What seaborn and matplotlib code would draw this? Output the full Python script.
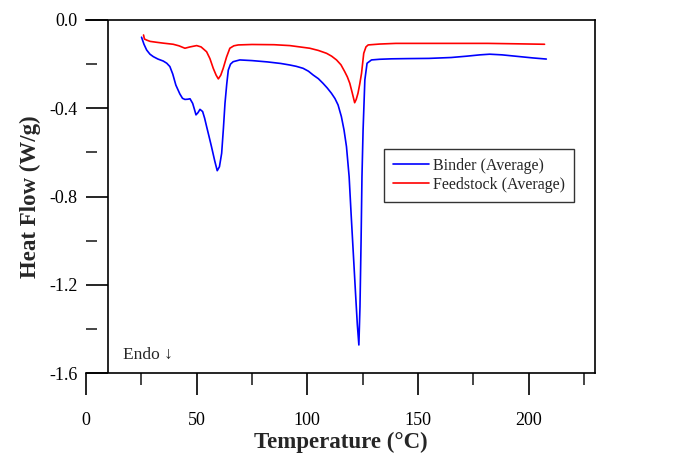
import numpy as np
import pandas as pd
import matplotlib
matplotlib.use("Agg")
import matplotlib.pyplot as plt
import seaborn as sns
from matplotlib.ticker import FixedLocator

# ---- data ----
binder_x = [25.1, 26.2, 27.4, 28.9, 30.4, 32.5, 34.9, 36.5, 37.9, 39.2, 40.6, 42.4, 43.6,
            44.7, 46.0, 47.0, 48.2, 49.0, 49.7, 50.6, 51.5, 52.7, 53.6, 54.5, 55.6, 56.7,
            58.2, 59.3, 60.3, 61.3, 62.1, 62.8, 63.6, 64.3, 65.3, 66.5, 69.5,
            75.0, 82.0, 88.0, 92.1, 95.0, 98.1, 100.5, 102.6, 105.0, 107.1, 109.0, 110.9,
            112.5, 113.9, 115.4, 116.6, 117.7, 118.9, 119.8, 120.8, 121.8, 122.6, 123.3,
            123.8, 124.3, 124.7, 125.2, 126.0, 127.0, 129.0, 132.7, 138.0, 145.0, 155.0,
            165.0, 172.0, 178.0, 182.4, 188.0, 195.0, 202.0, 208.0]
binder_y = [-0.078, -0.110, -0.136, -0.155, -0.166, -0.177, -0.186, -0.196, -0.211, -0.245,
            -0.295, -0.335, -0.355, -0.360, -0.359, -0.357, -0.378, -0.405, -0.430, -0.420,
            -0.405, -0.415, -0.445, -0.483, -0.528, -0.574, -0.640, -0.683, -0.665, -0.604,
            -0.490, -0.378, -0.290, -0.227, -0.200, -0.189, -0.181, -0.184, -0.190, -0.197,
            -0.204, -0.210, -0.219, -0.232, -0.249, -0.266, -0.287, -0.308, -0.332, -0.356,
            -0.385, -0.438, -0.499, -0.574, -0.710, -0.880, -1.060, -1.240, -1.380, -1.473,
            -1.300, -1.000, -0.710, -0.500, -0.272, -0.196, -0.181, -0.178, -0.176, -0.175,
            -0.174, -0.170, -0.164, -0.158, -0.155, -0.158, -0.165, -0.172, -0.177]

feed_x = [26.0, 26.4, 27.4, 29.0, 31.9, 35.0, 39.4, 42.0, 44.7, 47.0, 50.0, 52.0, 54.5,
          56.0, 57.5, 58.8, 59.8, 60.9, 62.0, 63.5, 65.0, 66.8, 68.8, 75.0, 85.0, 92.1,
          101.1, 105.0, 108.7, 111.0, 113.2, 115.2, 116.9, 118.1, 119.2, 120.3, 121.4,
          122.1, 122.9, 123.7, 124.5, 125.5, 126.5, 127.5, 132.7, 140.0, 160.0, 181.5,
          195.0, 207.2]
feed_y = [-0.068, -0.086, -0.091, -0.097, -0.101, -0.105, -0.110, -0.117, -0.128, -0.122,
          -0.116, -0.122, -0.144, -0.175, -0.219, -0.250, -0.267, -0.250, -0.219, -0.168,
          -0.128, -0.117, -0.113, -0.111, -0.112, -0.116, -0.128, -0.138, -0.151, -0.164,
          -0.181, -0.203, -0.234, -0.258, -0.287, -0.330, -0.375, -0.360, -0.332, -0.290,
          -0.242, -0.151, -0.122, -0.113, -0.109, -0.106, -0.106, -0.106, -0.108, -0.110]

series_names = ["Binder (Average)", "Feedstock (Average)"]
x_ticks = [0, 50, 100, 150, 200]
y_ticks = [0.0, -0.4, -0.8, -1.2, -1.6]
y_tick_labels = ["0.0", "-0.4", "-0.8", "-1.2", "-1.6"]

df = pd.concat([
    pd.DataFrame({"T": binder_x, "HF": binder_y, "Sample": series_names[0]}),
    pd.DataFrame({"T": feed_x, "HF": feed_y, "Sample": series_names[1]}),
], ignore_index=True)

sns.set_style("ticks")
plt.rcParams["font.family"] = ["Liberation Serif", "DejaVu Serif"]
plt.rcParams["axes.unicode_minus"] = False

fig = plt.figure(figsize=(6.75, 4.57), dpi=100)
ax = fig.add_axes([86 / 675, 1 - 373 / 457, (595 - 86) / 675, (373 - 20) / 457])

sns.lineplot(data=df, x="T", y="HF", hue="Sample", palette=["#0000FF", "#FF0000"],
             linewidth=1.2, ax=ax, sort=False, estimator=None, legend=True)

ax.set_xlim(0, 230)
ax.set_ylim(-1.6, 0.0)

for s in ["top", "right", "bottom"]:
    ax.spines[s].set_linewidth(1.2)
    ax.spines[s].set_color("black")
ax.spines["left"].set_visible(False)
ax.axvline(10, color="black", linewidth=1.2)

ax.xaxis.set_major_locator(FixedLocator(x_ticks))
ax.xaxis.set_minor_locator(FixedLocator([25, 75, 125, 175, 225]))
ax.set_yticks(y_ticks)
ax.set_yticklabels(y_tick_labels)
ax.yaxis.set_minor_locator(FixedLocator([-0.2, -0.6, -1.0, -1.4]))

ax.tick_params(axis="x", which="major", direction="out", length=15.8, width=1.2,
               pad=12, labelsize=13, colors="black")
ax.tick_params(axis="x", which="minor", direction="out", length=8.6, width=1.2)
ax.tick_params(axis="y", which="major", direction="in", length=15.8, width=1.2,
               pad=6, labelsize=13, colors="black", left=True, right=False)
ax.tick_params(axis="y", which="minor", direction="in", length=8, width=1.2,
               left=True, right=False)
ax.tick_params(top=False, right=False, which="both")

ax.set_xlabel("Temperature (°C)", fontsize=16.5, fontweight="bold", labelpad=2)
ax.set_ylabel("Heat Flow (W/g)", fontsize=16.5, fontweight="bold", labelpad=6)

ax.text(16.7, -1.517, "Endo \u2193", fontsize=12.5, ha="left", va="center")

leg = ax.legend(loc="upper left", bbox_to_anchor=(384 / 675, 1 - 149 / 457),
                bbox_transform=fig.transFigure, borderaxespad=0, fontsize=11.5,
                frameon=True, fancybox=False, edgecolor="black", handlelength=2.25,
                borderpad=0.55, labelspacing=0.2, handletextpad=0.25, title=None)
leg.get_frame().set_linewidth(1.0)
for line in leg.get_lines():
    line.set_linewidth(1.2)

fig.savefig("out.png", dpi=100)
